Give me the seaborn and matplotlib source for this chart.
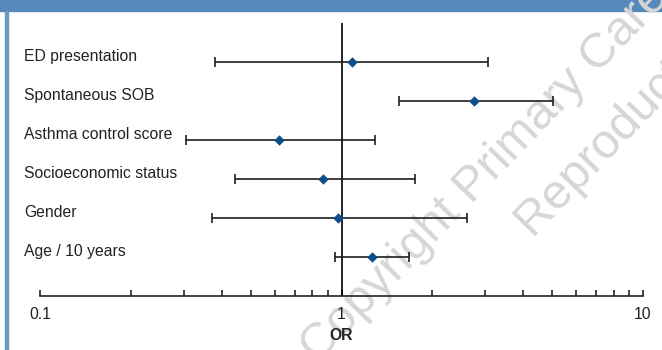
import matplotlib
matplotlib.use("Agg")
import matplotlib.pyplot as plt
import matplotlib.transforms as mtransforms
from matplotlib.patches import Rectangle
from matplotlib.ticker import LogLocator, NullFormatter
import pandas as pd
import seaborn as sns

# data (odds ratio with 95% CI)
labels = ["ED presentation", "Spontaneous SOB", "Asthma control score",
          "Socioeconomic status", "Gender", "Age / 10 years"]
odds = [1.08, 2.76, 0.62, 0.87, 0.97, 1.26]
lower = [0.38, 1.55, 0.306, 0.445, 0.373, 0.95]
upper = [3.05, 5.01, 1.29, 1.75, 2.60, 1.68]

df = pd.DataFrame({"label": labels, "OR": odds, "lo": lower, "hi": upper})
df["row"] = range(len(df))

sns.set_style("white")
plt.rcParams["font.family"] = ["Liberation Sans", "DejaVu Sans"]

fig = plt.figure(figsize=(6.62, 3.5), dpi=100)
ax = fig.add_axes([40 / 662, 54 / 350, 603 / 662, 273 / 350])
ax.set_zorder(2)

# header bar and left border
fig.patches.append(Rectangle((0, 339 / 350), 1, 11 / 350, transform=fig.transFigure,
                             color="#5689bb", zorder=0))
fig.patches.append(Rectangle((5 / 662, 0), 2.5 / 662, 339 / 350, transform=fig.transFigure,
                             color="#6a98c6", zorder=0))

# watermark
wm = dict(color="#d6d6d6", fontsize=35, rotation=46, rotation_mode="anchor",
          ha="left", va="baseline", zorder=1)
fig.text(318 / 662, -14 / 350, "Copyright Primary Care", **wm)
fig.text(532 / 662, 114 / 350, "Reproduction", **wm)

ax.set_xscale("log")
ax.axvline(1, color="black", lw=1.2, zorder=2)

ax.errorbar(df["OR"], df["row"],
            xerr=[df["OR"] - df["lo"], df["hi"] - df["OR"]],
            fmt="none", ecolor="#1e1e1e", elinewidth=1.2, capsize=3.5, capthick=1.2,
            zorder=3)
sns.scatterplot(data=df, x="OR", y="row", marker="D", s=24, color="#0d4f8b",
                edgecolor="#0d4f8b", ax=ax, zorder=4, legend=False)

trans = mtransforms.blended_transform_factory(ax.transAxes, ax.transData)
for r, lab in zip(df["row"], df["label"]):
    ax.text(-16 / 603, r - 0.13, lab, transform=trans, fontsize=11.3,
            ha="left", va="center", color="#222222")

ax.set_xlim(0.1, 10)
ax.set_ylim(6, -1)
ax.set_yticks([])
ax.set_ylabel("")
ax.set_xlabel("OR", fontweight="bold", fontsize=11.3, labelpad=4, color="#222222")
ax.xaxis.set_minor_locator(LogLocator(base=10, subs=range(2, 10), numticks=20))
ax.xaxis.set_minor_formatter(NullFormatter())
ax.set_xticks([0.1, 1, 10])
ax.set_xticklabels(["0.1", "1", "10"], fontsize=11.3, color="#222222")
ax.tick_params(axis="x", which="both", direction="in", length=4.3, width=1.2,
               color="#222222", bottom=True, pad=8)

for side in ["top", "left", "right"]:
    ax.spines[side].set_visible(False)
ax.spines["bottom"].set_color("#222222")
ax.spines["bottom"].set_linewidth(1.2)
ax.patch.set_alpha(0)

fig.savefig("out.png", dpi=100)
